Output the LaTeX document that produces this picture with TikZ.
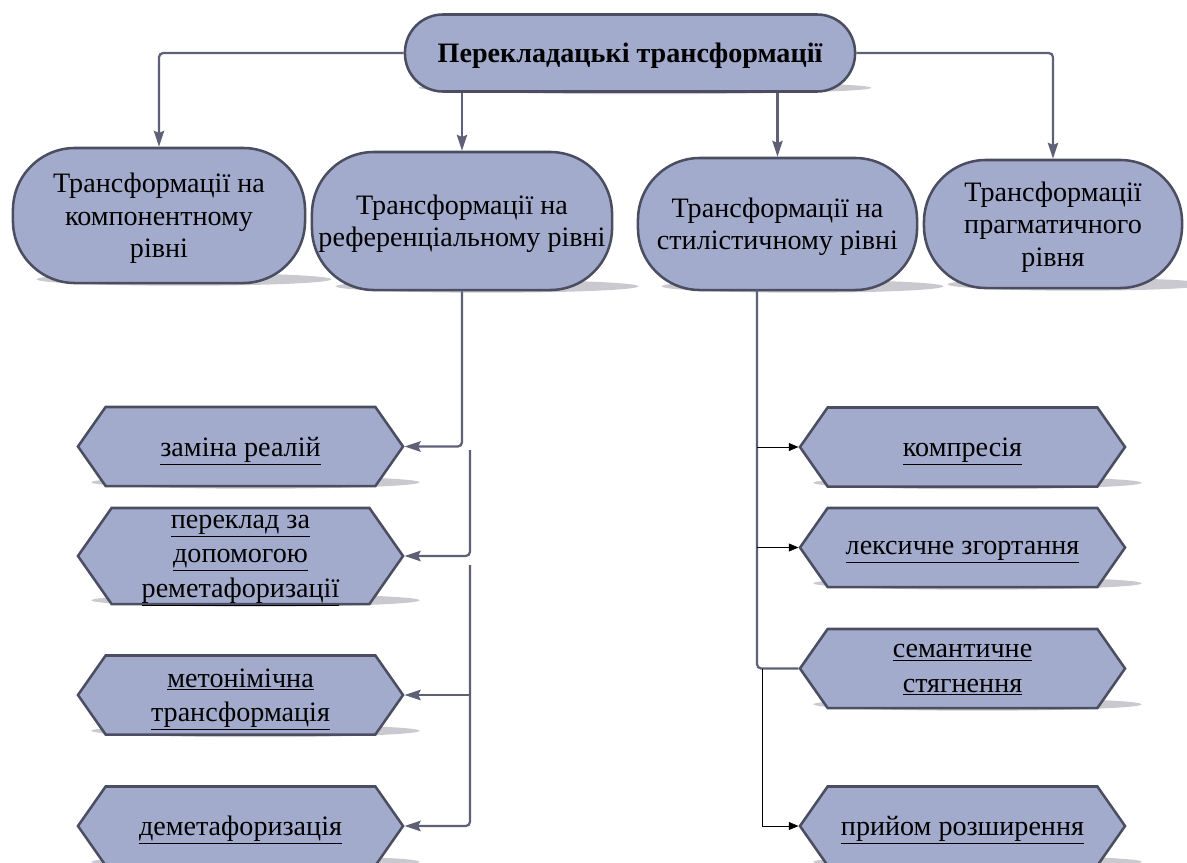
\documentclass[tikz,border=0pt]{standalone}
\usepackage{fontspec}
\setmainfont{Liberation Serif}
\usepackage{xcolor}
\usetikzlibrary{
  arrows.meta,
  positioning,
  calc,
  shapes.symbols,
  backgrounds
}
\definecolor{boxfill}{HTML}{A3ABCC}
\definecolor{boxline}{HTML}{4B4E60}
\definecolor{linkgray}{HTML}{5E6175}
\definecolor{shadowgray}{HTML}{C9C9CF}
\tikzset{
  topbox/.style={
    draw=boxline,
    fill=boxfill,
    line width=1.8pt,
    rounded corners=0.95cm,
    minimum width=11.25cm,
    minimum height=1.925cm,
    text depth=0pt,
    align=center,
    font=\fontsize{20}{24}\selectfont\bfseries,
  },
  levelbox/.style={
    draw=boxline,
    fill=boxfill,
    line width=1.8pt,
    rounded corners=1.55cm,
    inner sep=0pt,
    text depth=0pt,
    align=center,
    font=\fontsize{20}{23}\selectfont,
  },
  hexbox/.style={
    signal,
    signal to=west and east,
    signal pointer angle=110,
    draw=boxline,
    fill=boxfill,
    line width=1.8pt,
    minimum width=8.125cm,
    minimum height=1.975cm,
    inner xsep=0pt,
    inner ysep=1pt,
    text depth=0pt,
    align=center,
    font=\fontsize{20}{24.5}\selectfont,
  },
  link/.style={
    -{Stealth[length=4mm,width=2.6mm,inset=0.6mm]},
    line width=1.6pt,
    draw=linkgray,
    rounded corners=3pt,
  },
  plain/.style={
    line width=1.6pt,
    draw=linkgray,
    rounded corners=3pt,
  },
  thinlink/.style={
    -{Triangle[length=2.4mm,width=2mm]},
    thin,
    draw=black,
  },
}
\begin{document}
\begin{tikzpicture}[x=0.025cm, y=-0.025cm]
  \useasboundingbox (0,0) rectangle (1187,862);

  % Row 1 — root
  \node[topbox] (top) at (630,53) {Перекладацькі трансформації};

  % Row 2 — four levels
  \node[levelbox, minimum width=7.3cm, minimum height=3.375cm] (comp) at (159,215.5) {Трансформації на\\компонентному\\рівні};
  \node[levelbox, minimum width=7.5cm, minimum height=3.45cm] (ref) at (462,221) {Трансформації на\\референціальному рівні};
  \node[levelbox, minimum width=6.975cm, minimum height=3.3cm] (styl) at (777.5,224) {Трансформації на\\стилістичному рівні};
  \node[levelbox, minimum width=6.45cm, minimum height=3.2cm] (prag) at (1053,224) {Трансформації\\прагматичного\\рівня};

  \draw[link] (top.west) -| (comp.north);
  \draw[link] (top.east) -| (prag.north);
  \draw[link] (top.south -| ref.north) -- (ref.north);
  \draw[link] (top.south -| styl.north) -- (styl.north);

  % Left column — referential level
  \node[hexbox] (zam) at (240.5,446.5) {\underline{заміна реалій}};
  \node[hexbox, minimum height=2.4cm] (perek) at (240.5,556) {\underline{переклад за}\\\underline{допомогою}\\\underline{реметафоризації}};
  \node[hexbox] (meton) at (240.5,695) {\underline{метонімічна}\\\underline{трансформація}};
  \node[hexbox] (demet) at (240.5,826) {\underline{деметафоризація}};

  \coordinate (lmid) at (470,450);
  \coordinate (llow) at (470,565);
  \draw[link] (ref.south) |- (zam.east);
  \draw[link] (lmid) |- (perek.east);
  \draw[link] (llow) |- (demet.east);
  \draw[link] (llow |- meton.east) -- (meton.east);

  % Right column — stylistic level
  \node[hexbox] (kompr) at (962.5,447) {\underline{компресія}};
  \node[hexbox] (leks) at (962.5,547.5) {\underline{лексичне згортання}};
  \node[hexbox] (sem) at (962.5,668.5) {\underline{семантичне}\\\underline{стягнення}};
  \node[hexbox] (pryi) at (962.5,826) {\underline{прийом розширення}};

  \coordinate (rtop) at (757,290);
  \coordinate (rlow) at (762,668.5);
  \draw[plain] (rtop) |- (sem.west);
  \draw[thinlink] (rtop |- kompr.west) -- (kompr.west);
  \draw[thinlink] (rtop |- leks.west) -- (leks.west);
  \draw[thinlink] (rlow) |- (pryi.west);

  % shadows under every box
  \begin{scope}[on background layer]
    \foreach \nd/\dx in {top/15,comp/25,ref/25,styl/25,prag/25,zam/15,perek/15,meton/15,demet/15,kompr/15,leks/15,sem/15,pryi/15}
      \fill[shadowgray] let \p1=($(\nd.east)-(\nd.west)$) in
        ($(\nd.south)+(\dx,-5)$) ellipse [x radius=0.5*\x1, y radius=0.16cm];
  \end{scope}
\end{tikzpicture}
\end{document}
